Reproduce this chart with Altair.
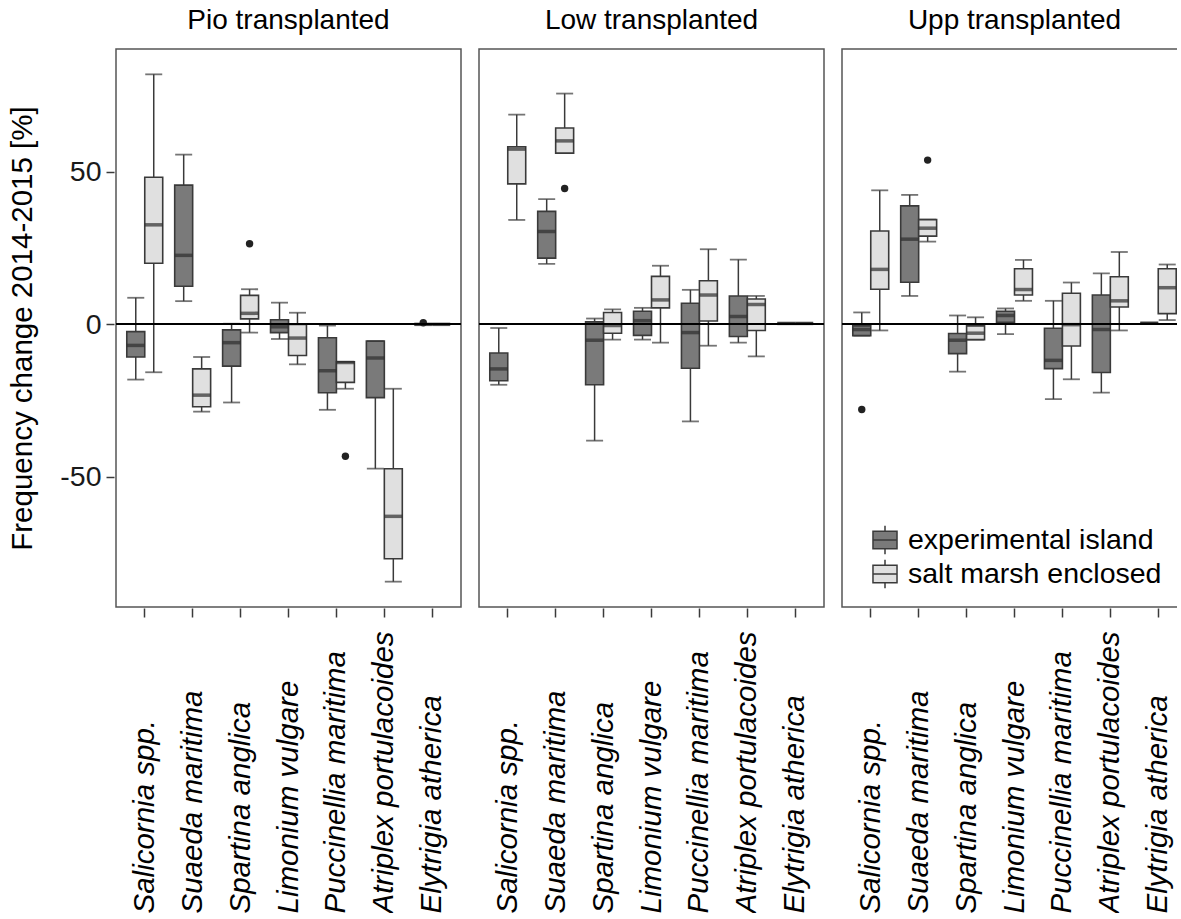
import altair as alt
import pandas as pd

species = ["Salicornia spp.", "Suaeda maritima", "Spartina anglica", "Limonium vulgare",
           "Puccinellia maritima", "Atriplex portulacoides", "Elytrigia atherica"]
panels = ["Pio transplanted", "Low transplanted", "Upp transplanted"]
groups = ["experimental island", "salt marsh enclosed"]

# box statistics per species: [lower whisker, q1, median, q3, upper whisker]
pio_exp = [[-18.1, -10.7, -6.9, -2.4, 8.7], [7.6, 12.5, 22.6, 45.6, 55.6],
           [-25.6, -13.7, -6.0, -1.8, 0.2], [-4.8, -2.7, -0.8, 1.5, 7.1],
           [-28.0, -22.4, -15.2, -4.4, -0.4], [-47.3, -24.0, -11.0, -5.5, -5.5],
           [0.0, 0.0, 0.0, 0.0, 0.0]]
pio_salt = [[-15.7, 20.0, 32.6, 48.2, 81.9], [-28.6, -27.0, -23.2, -14.6, -10.7],
            [-2.7, 1.8, 3.6, 9.5, 11.5], [-13.1, -10.2, -4.5, 0.0, 3.8],
            [-21.1, -19.0, -12.5, -12.3, -12.3], [-84.3, -76.8, -62.9, -47.3, -21.1],
            [0.0, 0.0, 0.0, 0.0, 0.0]]
low_exp = [[-19.8, -18.5, -14.6, -9.4, -1.2], [19.8, 21.7, 30.4, 37.0, 41.0],
           [-38.1, -19.8, -5.2, 0.8, 1.9], [-5.0, -3.6, 1.2, 4.3, 5.4],
           [-31.8, -14.4, -2.7, 6.9, 11.3], [-6.0, -4.0, 2.6, 9.3, 21.2],
           [0.3, 0.3, 0.3, 0.3, 0.3]]
low_salt = [[34.2, 46.0, 57.4, 58.2, 68.7], [56.1, 56.1, 60.1, 64.3, 75.6],
            [-5.0, -2.9, -0.4, 3.9, 4.9], [-6.0, 5.4, 8.0, 15.7, 19.2],
            [-7.0, 1.1, 9.6, 14.3, 24.6], [-10.5, -2.0, 6.5, 8.3, 9.3],
            [0.3, 0.3, 0.3, 0.3, 0.3]]
upp_exp = [[-3.7, -3.7, -1.7, -0.5, 3.9], [9.3, 13.8, 27.9, 38.8, 42.4],
           [-15.5, -9.6, -5.2, -3.0, 2.9], [-3.2, 0.7, 2.9, 4.3, 5.2],
           [-24.5, -14.5, -11.8, -1.3, 7.7], [-22.4, -15.8, -1.7, 9.6, 16.7],
           [0.4, 0.4, 0.4, 0.4, 0.4]]
upp_salt = [[-2.0, 11.5, 18.0, 30.6, 43.9], [27.1, 28.9, 31.5, 34.3, 34.3],
            [-5.0, -5.0, -2.9, -0.5, 2.3], [7.7, 9.6, 11.4, 18.2, 21.1],
            [-18.0, -7.1, -0.1, 10.2, 13.7], [-2.0, 5.7, 7.7, 15.6, 23.7],
            [1.4, 3.5, 12.0, 18.2, 19.6]]

# outliers
out_panel = ["Pio transplanted", "Pio transplanted", "Pio transplanted",
             "Low transplanted", "Upp transplanted", "Upp transplanted"]
out_species = ["Spartina anglica", "Puccinellia maritima", "Elytrigia atherica",
               "Suaeda maritima", "Salicornia spp.", "Suaeda maritima"]
out_group = ["salt marsh enclosed", "salt marsh enclosed", "experimental island",
             "salt marsh enclosed", "experimental island", "salt marsh enclosed"]
out_value = [26.4, -43.2, 0.5, 44.5, -27.9, 53.8]

stats = {
    ("Pio transplanted", groups[0]): pio_exp, ("Pio transplanted", groups[1]): pio_salt,
    ("Low transplanted", groups[0]): low_exp, ("Low transplanted", groups[1]): low_salt,
    ("Upp transplanted", groups[0]): upp_exp, ("Upp transplanted", groups[1]): upp_salt,
}
rows = []
for (p, g), vals in stats.items():
    for sp, v in zip(species, vals):
        rows.append(dict(panel=p, species=sp, group=g, lower=v[0], q1=v[1],
                         median=v[2], q3=v[3], upper=v[4], outlier=None))
for p, sp, g, v in zip(out_panel, out_species, out_group, out_value):
    rows.append(dict(panel=p, species=sp, group=g, lower=None, q1=None,
                     median=None, q3=None, upper=None, outlier=v))
df = pd.DataFrame(rows)

FONT = "Liberation Sans"
DARK = "#3a3a3a"
ytitle = "Frequency change 2014-2015 [%]"
yscale = alt.Scale(domain=[-92.6, 90.2], nice=False, zero=False)
yaxis = alt.Axis(values=[-50, 0, 50], grid=False, domain=False, tickSize=8,
                 tickColor=DARK, tickWidth=1.5, labelFontSize=28.5, labelColor="#1a1a1a",
                 labelPadding=5, labelExpr="toString(datum.value)",
                 titleFontSize=29.5, titleFontWeight="normal",
                 titleColor="black", titlePadding=22)


def Y(field):
    return alt.Y(field, type="quantitative", scale=yscale, axis=yaxis, title=ytitle)


X = alt.X("species:N", sort=species, title=None,
          scale=alt.Scale(paddingInner=0, paddingOuter=0.1),
          axis=alt.Axis(domain=False, tickSize=9, tickColor=DARK, tickWidth=1.5,
                        labelAngle=-90, labelAlign="left", labelBaseline="middle",
                        labelPadding=296, labelFontSize=29.5, labelFontStyle="italic",
                        labelColor="black", labelLimit=500, labelOverlap=False))
XO = alt.XOffset("group:N", sort=groups,
                 scale=alt.Scale(paddingInner=0, paddingOuter=1 / 3))

valid = "isValid(datum.q1)"
base = alt.Chart()

whisker = base.mark_rule(color=DARK, strokeWidth=1.5).encode(
    x=X, xOffset=XO, y=Y("lower"), y2="upper:Q").transform_filter(valid)
cap_lo = base.mark_tick(color=DARK, size=17, thickness=1.8).encode(
    x=X, xOffset=XO, y=Y("lower")).transform_filter(valid)
cap_hi = base.mark_tick(color=DARK, size=17, thickness=1.8).encode(
    x=X, xOffset=XO, y=Y("upper")).transform_filter(valid)
box = base.mark_bar(stroke=DARK, strokeWidth=1.6).encode(
    x=X, xOffset=XO, y=Y("q1"), y2="q3:Q",
    fill=alt.Fill("group:N", sort=groups,
                  scale=alt.Scale(domain=groups, range=["#7a7a7a", "#e0e0e0"]),
                  legend=alt.Legend(
                      title=None, orient="none", legendX=754, legendY=476,
                      symbolType="M-0.85,-0.62H0.85V0.62H-0.85Z M-0.85,0H0.85 M0,-0.62V-1 M0,0.62V1",
                      symbolStrokeColor=DARK, symbolStrokeWidth=1.5, symbolSize=800,
                      labelFontSize=28.5, labelColor="black", rowPadding=-2,
                      labelOffset=8, labelLimit=400))).transform_filter(valid)
median = base.mark_tick(color="#2e2e2e", size=18, thickness=3.5).encode(
    x=X, xOffset=XO, y=Y("median")).transform_filter(valid)
outl = base.mark_circle(color="#222222", size=55, opacity=1).encode(
    x=X, xOffset=XO, y=Y("outlier")).transform_filter("isValid(datum.outlier)")
zero = base.mark_rule(color="black", strokeWidth=1.5).encode(y=alt.datum(0))

layered = alt.layer(whisker, cap_lo, cap_hi, box, median, outl, zero).properties(
    width=345, height=558)

chart = layered.facet(
    data=df,
    column=alt.Column("panel:N", sort=panels,
                      header=alt.Header(title=None, labelFontSize=28, labelColor="black",
                                        labelFont=FONT, labelPadding=13.5)),
    spacing=14,
).properties(
    padding={"left": 7, "top": 6, "right": -12, "bottom": 0},
).configure(font=FONT).configure_view(stroke="#555555", strokeWidth=1.5)

chart.save("out.html", embed_options={"renderer": "svg", "actions": False})
